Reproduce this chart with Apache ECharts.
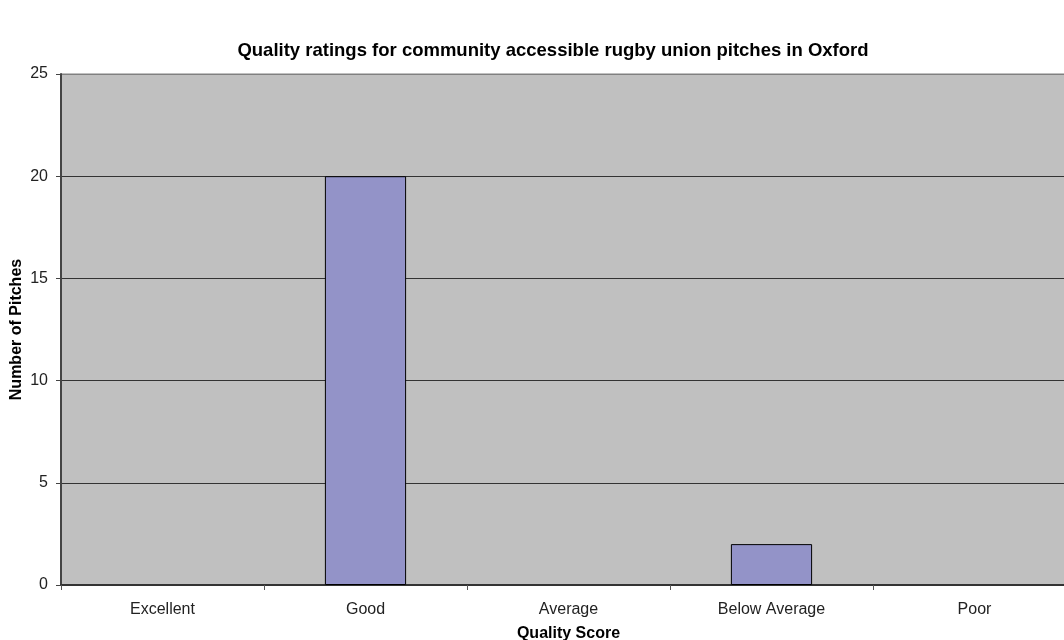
<!DOCTYPE html>
<html>
<head>
<meta charset="utf-8">
<title>Quality ratings for community accessible rugby union pitches in Oxford</title>
<script src="https://cdn.jsdelivr.net/npm/echarts@6/dist/echarts.min.js"></script>
<style>
  html, body { margin: 0; padding: 0; background: #ffffff; }
  #chart { width: 1064px; height: 640px; }
</style>
</head>
<body>
<div id="chart"></div>
<script>
// Pitch quality categories and number of pitches in each
const categories = ['Excellent', 'Good', 'Average', 'Below Average', 'Poor'];
const pitchCounts = [0, 20, 0, 2, 0];
const yTicks = [0, 5, 10, 15, 20, 25];

const chart = echarts.init(document.getElementById('chart'));
const font = 'Liberation Sans, Arial, sans-serif';

// zero-height bars get no outline so they don't leave a line on the axis
const barData = pitchCounts.map(v => v === 0 ? { value: v, itemStyle: { borderWidth: 0 } } : v);

chart.setOption({
  animation: false,
  title: {
    text: 'Quality ratings for community accessible rugby union pitches in Oxford',
    left: 548,
    textAlign: 'center',
    top: 36,
    textStyle: { fontFamily: font, fontSize: 18.5, fontWeight: 'bold', color: '#000' }
  },
  grid: {
    left: 61, right: -12, top: 74, bottom: 55,
    containLabel: false,
    outerBoundsMode: 'none',
    show: true,
    backgroundColor: '#c0c0c0',
    borderColor: '#808080',
    borderWidth: 1
  },
  xAxis: {
    type: 'category',
    data: categories,
    name: 'Quality Score',
    nameLocation: 'middle',
    nameGap: 41,
    nameMoveOverlap: false,
    nameTextStyle: { fontFamily: font, fontSize: 16, fontWeight: 'bold', color: '#000' },
    axisLine: { lineStyle: { color: '#333', width: 2 } },
    axisTick: { show: true, alignWithLabel: false, length: 5, lineStyle: { color: '#555' } },
    axisLabel: { fontFamily: font, fontSize: 16, color: '#222', margin: 17 },
    splitLine: { show: false }
  },
  yAxis: {
    type: 'value',
    min: yTicks[0],
    max: yTicks[yTicks.length - 1],
    interval: 5,
    name: 'Number of Pitches',
    nameLocation: 'middle',
    nameGap: 36,
    nameMoveOverlap: false,
    nameTextStyle: { fontFamily: font, fontSize: 16, fontWeight: 'bold', color: '#000' },
    axisLine: { show: true, lineStyle: { color: '#444', width: 2 } },
    axisTick: { show: true, length: 5, lineStyle: { color: '#444' } },
    axisLabel: { fontFamily: font, fontSize: 16, color: '#222', margin: 13 },
    splitLine: {
      show: true,
      lineStyle: { color: ['#333', '#333', '#333', '#333', '#333', '#808080'], width: 1 }
    }
  },
  series: [{
    type: 'bar',
    data: barData,
    barWidth: '40%',
    itemStyle: { color: '#9393c8', borderColor: '#000', borderWidth: 1 }
  }]
});
</script>
</body>
</html>
